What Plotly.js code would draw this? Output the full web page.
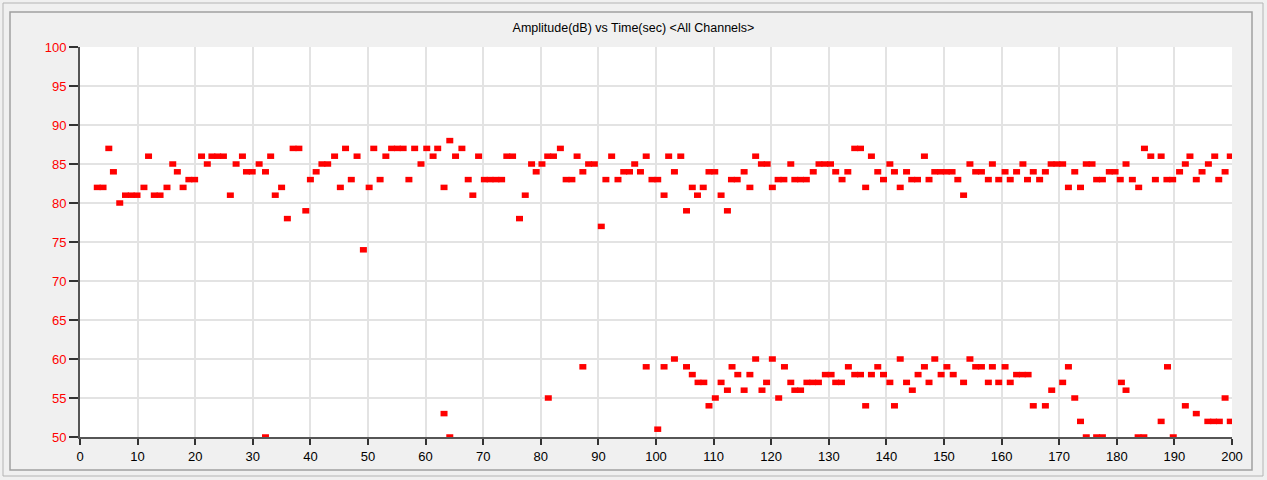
<!DOCTYPE html>
<html>
<head>
<meta charset="utf-8">
<script src="https://cdn.plot.ly/plotly-3.0.1.min.js"></script>
<style>
html,body{margin:0;padding:0;background:#f0f0f0;}
#chart{width:1267px;height:480px;}
</style>
</head>
<body>
<div id="chart"></div>
<script>
// Upper band (channel readings around 80-88 dB)
const upperTime = [3.0,4.0,5.0,5.8,6.9,7.9,8.9,9.9,11.1,11.9,12.9,13.9,15.1,16.1,16.9,17.9,18.9,19.9,21.1,22.1,22.9,23.9,24.9,26.1,27.1,28.2,28.9,29.9,31.1,32.2,33.1,33.9,35.0,36.0,37.0,38.0,39.2,40.0,41.0,42.0,43.0,44.2,45.2,46.1,47.1,48.1,49.2,50.2,51.0,52.1,53.1,54.1,55.1,56.1,57.1,58.1,59.2,60.2,61.3,62.1,63.2,64.2,65.2,66.3,67.4,68.2,69.2,70.2,71.2,72.2,73.2,74.1,75.1,76.3,77.3,78.4,79.2,80.2,81.2,82.2,83.4,84.4,85.4,86.3,87.3,88.3,89.3,90.5,91.3,92.3,93.4,94.4,95.4,96.3,97.3,98.3,99.3,100.3,101.4,102.2,103.2,104.3,105.3,106.3,107.2,108.2,109.2,110.2,111.3,112.4,113.1,114.1,115.3,116.3,117.3,118.3,119.3,120.2,121.2,122.2,123.4,124.1,125.1,126.1,127.3,128.3,129.3,130.3,131.2,132.3,133.3,134.5,135.5,136.4,137.4,138.5,139.5,140.6,141.4,142.4,143.5,144.4,145.4,146.6,147.4,148.4,149.4,150.4,151.4,152.4,153.4,154.5,155.5,156.5,157.7,158.4,159.5,160.6,161.5,162.6,163.7,164.5,165.5,166.6,167.6,168.6,169.6,170.6,171.6,172.7,173.7,174.7,175.7,176.5,177.5,178.7,179.7,180.6,181.6,182.7,183.8,184.8,185.9,186.7,187.7,188.7,189.7,190.9,191.9,192.7,193.8,194.8,195.9,197.0,197.7,198.8,199.7];
const upperAmp = [82,82,87,84,80,81,81,81,82,86,81,81,82,85,84,82,83,83,86,85,86,86,86,81,85,86,84,84,85,84,86,81,82,78,87,87,79,83,84,85,85,86,82,87,83,86,74,82,87,83,86,87,87,87,83,87,85,87,86,87,82,88,86,87,83,81,86,83,83,83,83,86,86,78,81,85,84,85,86,86,87,83,83,86,84,85,85,77,83,86,83,84,84,85,84,86,83,83,81,86,84,86,79,82,81,82,84,84,81,79,83,83,84,82,86,85,85,82,83,83,85,83,83,83,84,85,85,85,84,83,84,87,87,82,86,84,83,85,84,82,84,83,83,86,83,84,84,84,84,83,81,85,84,84,83,85,83,84,83,84,85,83,84,83,84,85,85,85,82,84,82,85,85,83,83,84,84,83,85,83,82,87,86,83,86,83,83,84,85,86,83,84,85,86,83,84,86];
// Lower band (channel readings around 50-60 dB)
const lowerTime = [32.2,63.2,64.2,81.3,87.3,98.3,100.3,101.4,103.2,105.3,106.3,107.3,108.3,109.2,110.3,111.3,112.4,113.2,114.2,115.3,116.3,117.3,118.4,119.2,120.2,121.3,122.3,123.4,124.1,125.1,126.2,127.2,128.2,129.4,130.4,131.2,132.2,133.4,134.5,135.5,136.4,137.4,138.5,139.5,140.6,141.4,142.4,143.5,144.5,145.5,146.6,147.4,148.4,149.5,150.5,151.6,153.4,154.5,155.5,156.5,157.7,158.4,159.5,160.6,161.5,162.6,163.6,164.6,165.5,167.6,168.7,170.6,171.6,172.7,173.7,174.7,176.5,177.5,180.8,181.6,183.7,184.7,187.7,188.8,189.8,191.9,193.8,195.8,196.8,197.8,198.8,199.7];
const lowerAmp = [50,53,50,55,59,59,51,59,60,59,58,57,57,54,55,57,56,59,58,56,58,60,56,57,60,55,59,57,56,56,57,57,57,58,58,57,57,59,58,58,54,58,59,58,57,54,60,57,56,58,59,57,60,58,59,58,57,60,59,59,57,59,57,59,57,58,58,58,54,54,56,57,59,55,52,50,50,50,57,56,50,50,52,59,50,54,53,52,52,52,55,52];

const xTickVals = [0,10,20,30,40,50,60,70,80,90,100,110,120,130,140,150,160,170,180,190,200];
const yTickVals = [50,55,60,65,70,75,80,85,90,95,100];

const time = upperTime.concat(lowerTime);
const amp = upperAmp.concat(lowerAmp);

const markerStyle = {symbol:'line-ew', size:5, color:'#ff0000', line:{color:'#ff0000', width:5.5}};

const data = [{
  type:'scatter', mode:'markers', x: time, y: amp,
  marker: markerStyle, cliponaxis: true, hoverinfo:'x+y'
}];

// plot area in pixels: x 80..1232, y 47..437
const px = v => (v - 80) / 1152;
const py = v => (437 - v) / 390;

const layout = {
  width:1267, height:480,
  paper_bgcolor:'#f0f0f0', plot_bgcolor:'#ffffff',
  margin:{l:80, r:35, t:47, b:43},
  showlegend:false,
  font:{family:'Liberation Sans, Arial, sans-serif', size:13, color:'#000'},
  title:{text:'Amplitude(dB) vs Time(sec) &lt;All Channels&gt;', font:{size:12.5, color:'#000', family:'Liberation Sans, Arial, sans-serif'}, x:0.5, xref:'container', xanchor:'center', y:1-28/480, yref:'container', yanchor:'middle'},
  xaxis:{range:[0,200], tickvals:xTickVals, ticktext:xTickVals.map(String), showgrid:true, gridcolor:'#e3e3e3', gridwidth:2, zeroline:false, showline:true, linecolor:'#555', linewidth:2, mirror:false, ticks:'outside', ticklen:6, tickwidth:2, tickcolor:'#333', tickfont:{color:'#000', size:13}},
  yaxis:{range:[50,100], tickvals:yTickVals, ticktext:yTickVals.map(String), showgrid:true, gridcolor:'#e3e3e3', gridwidth:2, zeroline:false, showline:true, linecolor:'#555', linewidth:2, ticks:'outside', ticklen:9, tickwidth:2, tickcolor:'#333', tickfont:{color:'#ff0000', size:13}},
  shapes:[
    {type:'rect', xref:'paper', yref:'paper', x0:px(3), x1:px(1263), y0:py(476), y1:py(3), line:{color:'#b4b4b4', width:1}, layer:'below'},
    {type:'rect', xref:'paper', yref:'paper', x0:px(10), x1:px(1252), y0:py(470), y1:py(12), line:{color:'#a0a0a0', width:1.5}, layer:'below'}
  ]
};

Plotly.newPlot('chart', data, layout, {displayModeBar:false, staticPlot:true});
</script>
</body>
</html>
